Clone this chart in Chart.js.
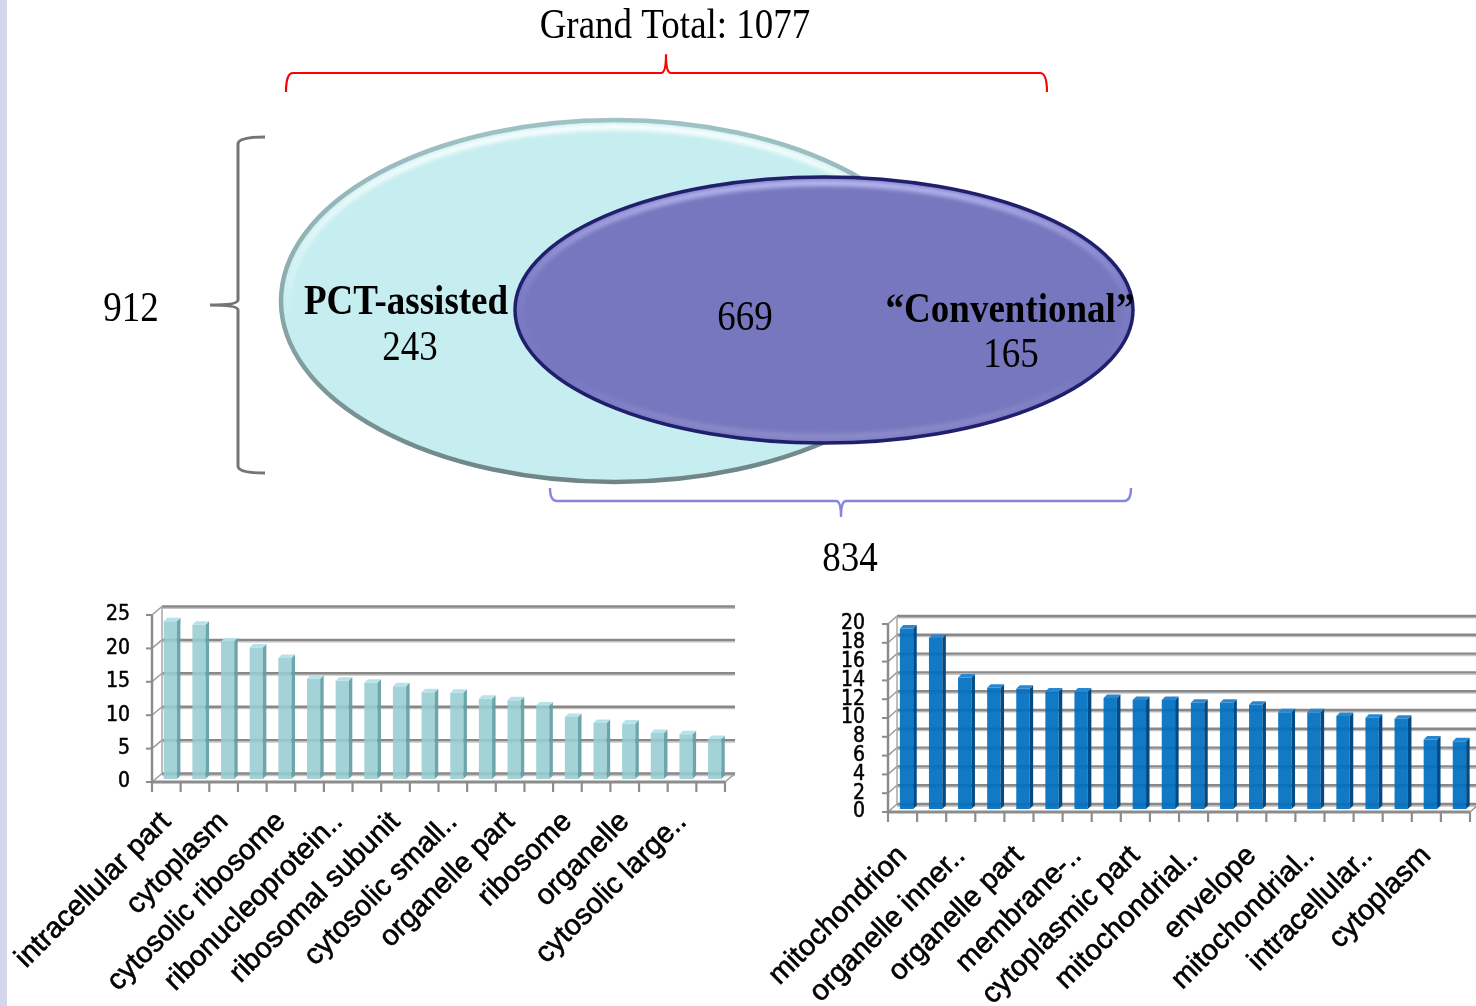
<!DOCTYPE html>
<html>
<head>
<meta charset="utf-8">
<script src="https://cdn.jsdelivr.net/npm/chart.js@4.4.1/dist/chart.umd.min.js"></script>
<style>
  html, body { margin: 0; padding: 0; background: #ffffff; }
  #page { position: relative; width: 1476px; height: 1006px; overflow: hidden; background: #ffffff; }
  #stripe { position: absolute; left: 0; top: 0; width: 7px; height: 1006px; background: #d4d7eb; }
  canvas { position: absolute; }
  #venn { left: 0; top: 0; }
  #leftBars { left: 0; top: 590px; }
  #rightBars { left: 760px; top: 590px; }
</style>
</head>
<body>
<div id="page">
  <div id="stripe"></div>
  <canvas id="venn" width="1476" height="590"></canvas>
  <canvas id="leftBars" width="760" height="416"></canvas>
  <canvas id="rightBars" width="716" height="416"></canvas>
</div>
<script>
// ---- Data ----
const vennSetNames = ['PCT-assisted', '\u201CConventional\u201D'];
// protein counts: PCT-assisted only, found by both, conventional only
const vennRegionCounts = [243, 669, 165];

// only every second category name is printed on the axis
const leftCategories = [
  'intracellular part', '', 'cytoplasm', '', 'cytosolic ribosome', '',
  'ribonucleoprotein..', '', 'ribosomal subunit', '', 'cytosolic small..', '',
  'organelle part', '', 'ribosome', '', 'organelle', '', 'cytosolic large..', ''
];
const leftValues = [23.6, 23.1, 20.6, 19.7, 18.1, 15.0, 14.7, 14.4, 13.9, 13.0,
                    12.9, 12.0, 11.8, 11.0, 9.3, 8.4, 8.3, 6.9, 6.7, 6.0];
const leftTicks = [0, 5, 10, 15, 20, 25];

const rightCategories = [
  'mitochondrion', '', 'organelle inner..', '', 'organelle part', '',
  'membrane-..', '', 'cytoplasmic part', '', 'mitochondrial..', '',
  'envelope', '', 'mitochondrial..', '', 'intracellular..', '', 'cytoplasm', ''
];
const rightValues = [19.2, 18.2, 14.0, 12.9, 12.8, 12.5, 12.5, 11.8, 11.6, 11.6,
                     11.3, 11.3, 11.1, 10.3, 10.3, 9.9, 9.7, 9.6, 7.4, 7.2];
const rightTicks = [0, 2, 4, 6, 8, 10, 12, 14, 16, 18, 20];

// ---- Venn drawing ----
const SERIF = '"Liberation Serif", "Times New Roman", serif';
const SANS = '"Liberation Sans", Arial, sans-serif';

const vennGeometry = {
  pct:  { cx: 615, cy: 301, rx: 334, ry: 181 },
  conv: { cx: 824, cy: 310, rx: 309, ry: 133 }
};

function stretchedText(ctx, text, x, baseline, font, align) {
  ctx.save();
  ctx.translate(x, baseline);
  ctx.scale(1, 1.13);
  ctx.font = font;
  ctx.textAlign = align || 'center';
  ctx.textBaseline = 'alphabetic';
  ctx.fillStyle = '#000';
  ctx.fillText(text, 0, 0);
  ctx.restore();
}

// curly brace along local x from 0 to len; hooks bend to y = h, tip points to y = -t at m
function bracePath(ctx, len, m, h, t) {
  const r = 7, q = 5;
  ctx.beginPath();
  ctx.moveTo(0, h);
  ctx.quadraticCurveTo(0, 0, r * Math.sign(len), 0);
  ctx.lineTo(m - q, 0);
  ctx.quadraticCurveTo(m, 0, m, -t);
  ctx.quadraticCurveTo(m, 0, m + q, 0);
  ctx.lineTo(len - r, 0);
  ctx.quadraticCurveTo(len, 0, len, h);
}

function ellipsePath(ctx, e, inset) {
  ctx.beginPath();
  ctx.ellipse(e.cx, e.cy, e.rx - inset, e.ry - inset, 0, 0, Math.PI * 2);
}

const vennPlugin = {
  id: 'vennPlugin',
  afterDatasetsDraw(chart) {
    const { ctx, scales: { x, y } } = chart;
    const toPx = g => ({
      cx: x.getPixelForValue(g.cx), cy: y.getPixelForValue(g.cy),
      rx: x.getPixelForValue(g.cx + g.rx) - x.getPixelForValue(g.cx),
      ry: y.getPixelForValue(g.cy + g.ry) - y.getPixelForValue(g.cy)
    });
    const a = toPx(vennGeometry.pct);
    const b = toPx(vennGeometry.conv);

    // PCT-assisted set
    ctx.save();
    ellipsePath(ctx, a, 0);
    ctx.fillStyle = '#c6eef0';
    ctx.fill();
    ctx.save();
    ellipsePath(ctx, a, 0);
    ctx.clip();
    ctx.filter = 'blur(2px)';
    ellipsePath(ctx, a, 7);
    let g = ctx.createLinearGradient(0, a.cy - a.ry, 0, a.cy + 20);
    g.addColorStop(0, 'rgba(255,255,255,1)');
    g.addColorStop(0.6, 'rgba(255,255,255,0.5)');
    g.addColorStop(1, 'rgba(255,255,255,0)');
    ctx.strokeStyle = g;
    ctx.lineWidth = 6;
    ctx.stroke();
    ctx.restore();
    ellipsePath(ctx, a, 0);
    g = ctx.createLinearGradient(0, a.cy - a.ry, 0, a.cy + a.ry);
    g.addColorStop(0, '#9fc2c4');
    g.addColorStop(0.5, '#8aa9ab');
    g.addColorStop(1, '#6f8586');
    ctx.strokeStyle = g;
    ctx.lineWidth = 4.5;
    ctx.stroke();
    ctx.restore();

    // Conventional set
    ctx.save();
    ellipsePath(ctx, b, 0);
    ctx.fillStyle = '#7777bf';
    ctx.fill();
    ctx.save();
    ellipsePath(ctx, b, 0);
    ctx.clip();
    ctx.filter = 'blur(2px)';
    ellipsePath(ctx, b, 6);
    g = ctx.createLinearGradient(0, b.cy - b.ry, 0, b.cy + b.ry);
    g.addColorStop(0, 'rgba(190,190,245,1)');
    g.addColorStop(0.45, 'rgba(170,170,235,0.15)');
    g.addColorStop(0.75, 'rgba(170,170,235,0.0)');
    g.addColorStop(1, 'rgba(160,160,210,0.6)');
    ctx.strokeStyle = g;
    ctx.lineWidth = 6;
    ctx.stroke();
    ctx.restore();
    ellipsePath(ctx, b, 0);
    ctx.strokeStyle = '#1f1f6c';
    ctx.lineWidth = 3.5;
    ctx.stroke();
    ctx.restore();

    // braces
    const px = v => x.getPixelForValue(v), py = v => y.getPixelForValue(v);
    ctx.save();
    ctx.lineJoin = 'round';
    ctx.lineCap = 'butt';
    // grand total (red, above)
    ctx.translate(px(286), py(73));
    bracePath(ctx, px(1047) - px(286), px(666) - px(286), 19, 18);
    ctx.strokeStyle = '#ff0000';
    ctx.lineWidth = 2.2;
    ctx.stroke();
    ctx.restore();

    // PCT-assisted total (grey, left)
    ctx.save();
    ctx.translate(px(238), py(137));
    ctx.rotate(Math.PI / 2);
    bracePath(ctx, py(473) - py(137), py(305) - py(137), -27, -28);
    ctx.strokeStyle = '#757575';
    ctx.lineWidth = 3;
    ctx.stroke();
    ctx.restore();

    // Conventional total (lavender, below)
    ctx.save();
    ctx.translate(px(550), py(501));
    bracePath(ctx, px(1131) - px(550), px(841) - px(550), -13, -16);
    ctx.strokeStyle = '#8686dc';
    ctx.lineWidth = 2.4;
    ctx.stroke();
    ctx.restore();

    // labels
    const [onlyPct, both, onlyConv] = vennRegionCounts;
    const pctTotal = onlyPct + both;
    const convTotal = both + onlyConv;
    const grand = onlyPct + both + onlyConv;
    const f = '37px ' + SERIF;
    const fb = 'bold 37px ' + SERIF;
    stretchedText(ctx, 'Grand Total: ' + grand, px(675), py(38), f);
    stretchedText(ctx, String(pctTotal), px(131), py(321), f);
    stretchedText(ctx, String(convTotal), px(850), py(571), f);
    stretchedText(ctx, vennSetNames[0], px(406), py(314), fb);
    stretchedText(ctx, String(onlyPct), px(410), py(360), f);
    stretchedText(ctx, String(both), px(745), py(330), f);
    stretchedText(ctx, vennSetNames[1], px(1010), py(322), fb);
    stretchedText(ctx, String(onlyConv), px(1011), py(367), f);
  }
};

new Chart(document.getElementById('venn'), {
  type: 'scatter',
  data: { datasets: [{ data: [], pointRadius: 0 }] },
  options: {
    responsive: false, animation: false, events: [], devicePixelRatio: 1,
    layout: { padding: 0 },
    plugins: { legend: { display: false }, tooltip: { enabled: false } },
    scales: {
      x: { type: 'linear', display: false, min: 0, max: 1476 },
      y: { type: 'linear', display: false, min: 0, max: 590, reverse: true }
    }
  },
  plugins: [vennPlugin]
});

// ---- 3D-look column charts ----
function line(ctx, x1, y1, x2, y2) {
  ctx.beginPath(); ctx.moveTo(x1, y1); ctx.lineTo(x2, y2); ctx.stroke();
}

function wall3d(st) {
  return {
    id: 'wall3d',
    beforeDatasetsDraw(chart) {
      const { ctx, chartArea: a, scales: { y } } = chart;
      const dx = st.dx, dy = st.dy;
      const wallRight = st.wallRight;
      ctx.save();
      // floor back edge
      ctx.strokeStyle = '#c8c8c8'; ctx.lineWidth = 1.5;
      line(ctx, a.left + dx, a.bottom + dy + 2, wallRight, a.bottom + dy + 2);
      // back wall gridlines + side wall diagonals
      st.ticks.forEach(v => {
        const p = y.getPixelForValue(v);
        ctx.strokeStyle = '#c4c4c4'; ctx.lineWidth = 1.5;
        line(ctx, a.left + dx, p + dy + 1.8, wallRight, p + dy + 1.8);
        ctx.strokeStyle = '#888888'; ctx.lineWidth = 2.4;
        line(ctx, a.left + dx, p + dy, wallRight, p + dy);
        ctx.strokeStyle = '#9a9a9a'; ctx.lineWidth = 1.5;
        line(ctx, a.left, p, a.left + dx, p + dy);
      });
      // back wall left edge
      ctx.strokeStyle = '#a8a8a8'; ctx.lineWidth = 1.5;
      line(ctx, a.left + dx, a.bottom + dy, a.left + dx, y.getPixelForValue(st.ticks[st.ticks.length - 1]) + dy);
      ctx.restore();
      // bars sit half way into the depth
      ctx.save();
      ctx.translate(st.shiftX, st.shiftY);
    },
    afterDatasetsDraw(chart) {
      const { ctx, chartArea: a, scales: { y } } = chart;
      const meta = chart.getDatasetMeta(0);
      const d = st.barDepth, e = st.barRise;
      meta.data.forEach(bar => {
        const { x, y: top, base, width } = bar.getProps(['x', 'y', 'base', 'width'], true);
        const l = x - width / 2, r = x + width / 2;
        // right side face
        ctx.beginPath();
        ctx.moveTo(r, top); ctx.lineTo(r + d, top - e); ctx.lineTo(r + d, base - e); ctx.lineTo(r, base);
        ctx.closePath();
        ctx.fillStyle = st.side; ctx.fill();
        // top face
        ctx.beginPath();
        ctx.moveTo(l, top); ctx.lineTo(l + d, top - e); ctx.lineTo(r + d, top - e); ctx.lineTo(r, top);
        ctx.closePath();
        ctx.fillStyle = st.topFace; ctx.fill();
      });
      ctx.restore();

      // front axes
      ctx.save();
      ctx.strokeStyle = '#8c8c8c';
      ctx.lineWidth = 3;
      line(ctx, a.left, a.bottom, a.right, a.bottom);
      ctx.lineWidth = 2.5;
      line(ctx, a.left, a.bottom + 1.5, a.left, y.getPixelForValue(st.ticks[st.ticks.length - 1]));
      // floor right edge
      ctx.lineWidth = 1.5;
      ctx.strokeStyle = '#9a9a9a';
      line(ctx, a.right, a.bottom, a.right + st.dx, a.bottom + st.dy);
      // tick marks
      ctx.strokeStyle = '#8c8c8c';
      ctx.lineWidth = 2;
      st.ticks.forEach(v => {
        const p = y.getPixelForValue(v);
        line(ctx, a.left - 6, p, a.left, p);
      });
      const n = chart.data.labels.length;
      const step = (a.right - a.left) / n;
      ctx.lineWidth = 2.2;
      for (let i = 0; i <= n; i++) {
        const xx = a.left + i * step;
        line(ctx, xx, a.bottom, xx, a.bottom + 10);
      }
      ctx.restore();
    }
  };
}

function columnChart(id, categories, values, ticks, st) {
  return new Chart(document.getElementById(id), {
    type: 'bar',
    data: {
      labels: categories,
      datasets: [{
        data: values,
        backgroundColor: st.front,
        borderWidth: 0,
        barPercentage: 0.92,
        categoryPercentage: 0.5
      }]
    },
    options: {
      responsive: false, animation: false, events: [], devicePixelRatio: 1,
      layout: { padding: { left: st.padLeft, right: st.padRight, top: st.padTop, bottom: 0 } },
      plugins: { legend: { display: false }, tooltip: { enabled: false } },
      scales: {
        x: {
          grid: { display: false, drawTicks: false, tickLength: 0 },
          border: { display: false },
          ticks: {
            autoSkip: false, maxRotation: 45, minRotation: 45,
            padding: st.xPad, color: '#000',
            textStrokeColor: '#000', textStrokeWidth: 0.6,
            font: { family: SANS, size: st.xFont }
          },
          afterFit(s) { s.height = st.xHeight; s.paddingLeft = 0; s.paddingRight = 0; }
        },
        y: {
          min: ticks[0], max: ticks[ticks.length - 1],
          grid: { display: false, drawTicks: false, tickLength: 0 },
          border: { display: false },
          ticks: {
            autoSkip: false, padding: st.yPad, color: '#000',
            textStrokeColor: '#000', textStrokeWidth: 0.5,
            font: { family: st.yFamily, size: st.yFont }
          },
          afterBuildTicks(s) { s.ticks = ticks.map(v => ({ value: v })); },
          afterFit(s) { s.width = st.yWidth; s.paddingTop = 0; s.paddingBottom = 0; }
        }
      }
    },
    plugins: [wall3d(Object.assign({ ticks }, st))]
  });
}

const NARROW = '"Liberation Sans Narrow", "Arial Narrow", "DejaVu Sans Condensed", sans-serif';

// left canvas: origin (0, 590); plot spans x 152..725, y 615..782
columnChart('leftBars', leftCategories, leftValues, leftTicks, {
  padLeft: 92, yWidth: 60, padRight: 35, padTop: 25, xHeight: 224,
  xPad: 23, xFont: 29, yPad: 22, yFont: 21, yFamily: NARROW,
  dx: 10, dy: -8.5, wallRight: 735, shiftX: 4, shiftY: -3,
  barDepth: 3.5, barRise: 3.5,
  front: 'rgba(150,204,210,0.88)', side: 'rgba(100,160,166,0.95)', topFace: 'rgba(178,226,230,0.95)'
});

// right canvas: origin (760, 590); plot spans x 888..1470, y 624..812
columnChart('rightBars', rightCategories, rightValues, rightTicks, {
  padLeft: 68, yWidth: 60, padRight: 6, padTop: 34, xHeight: 194,
  xPad: 27, xFont: 29, yPad: 23, yFont: 21, yFamily: NARROW,
  dx: 9, dy: -8, wallRight: 716, shiftX: 4, shiftY: -3,
  barDepth: 3.5, barRise: 3.5,
  front: 'rgba(0,112,192,0.93)', side: 'rgba(0,74,134,1)', topFace: 'rgba(40,135,210,1)'
});
</script>
</body>
</html>
